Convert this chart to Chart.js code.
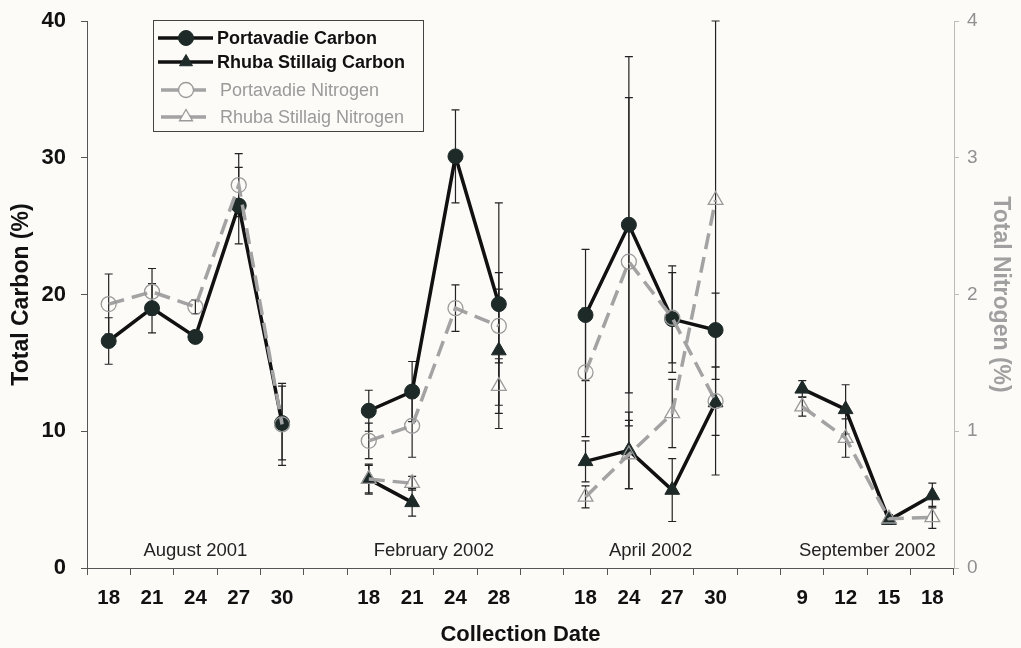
<!DOCTYPE html>
<html>
<head>
<meta charset="utf-8">
<title>Total Carbon and Nitrogen</title>
<style>
  html, body { margin: 0; padding: 0; background: #fcfbf8; }
  #wrap { width: 1021px; height: 648px; position: relative; }
</style>
<script src="https://cdn.jsdelivr.net/npm/chart.js@4.4.1/dist/chart.umd.min.js"></script>
</head>
<body>
<div id="wrap"><canvas id="c" width="1021" height="648"></canvas></div>
<script>
// Collection days; empty entries separate the sampling periods
const dateLabels = ['18','21','24','27','30','', '18','21','24','28','', '18','24','27','30','', '9','12','15','18'];

// Sampling periods: name and first/last category index
const periodNames = ['August 2001', 'February 2002', 'April 2002', 'September 2002'];
const periodFirst = [0, 6, 11, 16];
const periodLast  = [4, 9, 14, 19];

// Total carbon (%) and standard errors
const portavadieCarbon    = [16.6, 19.0, 16.9, 26.5, 10.6, null, 11.5, 12.9, 30.1, 19.3, null, 18.5, 25.1, 18.2, 17.4, null, null, null, null, null];
const portavadieCarbonErr = [1.7, 1.8, 0.3, 2.8, 2.7, null, 1.5, 2.2, 3.4, 7.4, null, 4.8, 12.3, 3.9, 2.7, null, null, null, null, null];
const rhubaCarbon         = [null, null, null, null, null, null, 6.5, 4.8, null, 15.9, null, 7.8, 8.6, 5.7, 12.1, null, 13.1, 11.6, 3.5, 5.3];
const rhubaCarbonErr      = [null, null, null, null, null, null, 1.1, 1.0, null, 5.7, null, 1.5, 2.8, 2.3, 5.3, null, 0.6, 1.8, 0.3, 0.9];

// Total nitrogen (%) and standard errors
const portavadieNitrogen    = [1.93, 2.02, 1.91, 2.80, 1.05, null, 0.93, 1.04, 1.90, 1.77, null, 1.43, 2.24, 1.83, 1.22, null, null, null, null, null];
const portavadieNitrogenErr = [0.22, 0.17, 0.05, 0.23, 0.30, null, 0.13, 0.23, 0.17, 0.27, null, 0.47, 1.20, 0.33, 0.25, null, null, null, null, null];
const rhubaNitrogen         = [null, null, null, null, null, null, 0.65, 0.62, null, 1.33, null, 0.52, 0.83, 1.13, 2.69, null, 1.18, 0.95, 0.36, 0.37];
const rhubaNitrogenErr      = [null, null, null, null, null, null, 0.10, 0.05, null, 0.20, null, 0.08, 0.25, 0.25, 1.31, null, 0.07, 0.14, 0.03, 0.08];

const FONT = "'Liberation Sans', Arial, Helvetica, sans-serif";
const BG = '#fcfbf8';
const INK = '#111111';
const GREY = '#a3a3a3';
const MARKER_DARK = '#1e2a28';

// Paints the page colour behind everything
const backgroundPlugin = {
  id: 'pageBackground',
  beforeDraw(chart) {
    const ctx = chart.ctx;
    ctx.save();
    ctx.fillStyle = BG;
    ctx.fillRect(0, 0, chart.width, chart.height);
    ctx.restore();
  }
};

// Vertical error bars with caps, drawn under the markers
const errorBarPlugin = {
  id: 'errorBars',
  beforeDatasetsDraw(chart) {
    const ctx = chart.ctx;
    ctx.save();
    ctx.strokeStyle = '#222';
    ctx.lineWidth = 1.2;
    chart.data.datasets.forEach((ds, di) => {
      if (!ds.errors) return;
      const meta = chart.getDatasetMeta(di);
      const yScale = chart.scales[ds.yAxisID];
      ds.data.forEach((v, i) => {
        const e = ds.errors[i];
        if (v == null || e == null) return;
        const x = meta.data[i].x;
        const yTop = yScale.getPixelForValue(v + e);
        const yBot = yScale.getPixelForValue(v - e);
        ctx.beginPath();
        ctx.moveTo(x, yTop); ctx.lineTo(x, yBot);
        ctx.moveTo(x - 4, yTop); ctx.lineTo(x + 4, yTop);
        ctx.moveTo(x - 4, yBot); ctx.lineTo(x + 4, yBot);
        ctx.stroke();
      });
    });
    ctx.restore();
  }
};

// Period names centred under each group of collection days
const periodLabelPlugin = {
  id: 'periodLabels',
  afterDraw(chart) {
    const ctx = chart.ctx;
    const xs = chart.scales.x;
    ctx.save();
    ctx.fillStyle = '#222';
    ctx.font = '18.5px ' + FONT;
    ctx.textAlign = 'center';
    ctx.textBaseline = 'middle';
    periodNames.forEach((name, k) => {
      const cx = (xs.getPixelForValue(periodFirst[k]) + xs.getPixelForValue(periodLast[k])) / 2;
      ctx.fillText(name, cx, chart.chartArea.bottom - 17);
    });
    ctx.restore();
  }
};

// Boxed key in the upper left of the plot
const keyPlugin = {
  id: 'boxedKey',
  afterDraw(chart) {
    const ctx = chart.ctx;
    const left = 153.5, top = 20.5, w = 270, h = 111;
    const rows = [38, 62, 90, 117];
    ctx.save();
    ctx.fillStyle = BG;
    ctx.fillRect(left, top, w, h);
    ctx.strokeStyle = '#444';
    ctx.lineWidth = 1;
    ctx.strokeRect(left, top, w, h);
    chart.data.datasets.forEach((ds, i) => {
      const y = rows[i];
      const isCarbon = ds.yAxisID === 'y';
      // line sample
      ctx.save();
      ctx.strokeStyle = ds.borderColor;
      ctx.lineWidth = ds.borderWidth;
      ctx.setLineDash(isCarbon ? [] : [22, 6]);
      ctx.beginPath();
      if (isCarbon) { ctx.moveTo(158, y); ctx.lineTo(213, y); }
      else { ctx.moveTo(161, y); ctx.lineTo(206, y); }
      ctx.stroke();
      ctx.restore();
      // marker
      ctx.save();
      ctx.fillStyle = isCarbon ? ds.pointBackgroundColor : BG;
      ctx.strokeStyle = ds.pointBorderColor;
      ctx.lineWidth = ds.pointBorderWidth;
      Chart.helpers.drawPoint(ctx, {
        pointStyle: ds.pointStyle,
        radius: ds.pointStyle === 'triangle' ? 7.5 : ds.pointRadius,
        borderWidth: ds.pointBorderWidth,
        rotation: 0
      }, 186, y);
      ctx.restore();
      // label
      ctx.fillStyle = isCarbon ? INK : '#9a9a9a';
      ctx.font = (isCarbon ? 'bold ' : '') + '18px ' + FONT;
      ctx.textAlign = 'left';
      ctx.textBaseline = 'middle';
      ctx.fillText(ds.label, isCarbon ? 217 : 220, y + 1);
    });
    ctx.restore();
  }
};

// Fixed box sizes for the vertical axes; the plot area top comes from layout padding
function fixVertical(width) {
  return function (scale) {
    scale.width = width;
    scale.paddingTop = 0;
    scale.paddingBottom = 0;
  };
}

new Chart(document.getElementById('c'), {
  type: 'line',
  data: {
    labels: dateLabels,
    datasets: [
      {
        label: 'Portavadie Carbon',
        data: portavadieCarbon,
        errors: portavadieCarbonErr,
        yAxisID: 'y',
        borderColor: INK,
        borderWidth: 3.5,
        pointStyle: 'circle',
        pointRadius: 7.5,
        pointBackgroundColor: MARKER_DARK,
        pointBorderColor: MARKER_DARK,
        pointBorderWidth: 1,
        spanGaps: false,
        order: 4
      },
      {
        label: 'Rhuba Stillaig Carbon',
        data: rhubaCarbon,
        errors: rhubaCarbonErr,
        yAxisID: 'y',
        borderColor: INK,
        borderWidth: 3.5,
        pointStyle: 'triangle',
        pointRadius: 8.5,
        pointBackgroundColor: MARKER_DARK,
        pointBorderColor: MARKER_DARK,
        pointBorderWidth: 1,
        spanGaps: false,
        order: 3
      },
      {
        label: 'Portavadie Nitrogen',
        data: portavadieNitrogen,
        errors: portavadieNitrogenErr,
        yAxisID: 'y2',
        borderColor: GREY,
        borderWidth: 3.5,
        borderDash: [16, 8],
        pointStyle: 'circle',
        pointRadius: 7.5,
        pointBackgroundColor: 'rgba(0,0,0,0)',
        pointBorderColor: '#9a9a9a',
        pointBorderWidth: 1.3,
        spanGaps: false,
        order: 2
      },
      {
        label: 'Rhuba Stillaig Nitrogen',
        data: rhubaNitrogen,
        errors: rhubaNitrogenErr,
        yAxisID: 'y2',
        borderColor: GREY,
        borderWidth: 3.5,
        borderDash: [16, 8],
        pointStyle: 'triangle',
        pointRadius: 8.5,
        pointBackgroundColor: 'rgba(0,0,0,0)',
        pointBorderColor: '#9a9a9a',
        pointBorderWidth: 1.3,
        spanGaps: false,
        order: 1
      }
    ]
  },
  options: {
    responsive: false,
    animation: false,
    devicePixelRatio: 1,
    layout: { padding: { top: 21, left: 0, right: 0, bottom: 0 } },
    plugins: {
      legend: { display: false },
      tooltip: { enabled: false }
    },
    scales: {
      x: {
        type: 'category',
        offset: true,
        grid: { display: true, drawOnChartArea: false, offset: true, tickLength: 7, color: '#555', lineWidth: 1 },
        border: { display: true, color: '#555', width: 1 },
        ticks: { color: INK, font: { family: FONT, size: 20.5, weight: 'bold' }, padding: 11, maxRotation: 0, autoSkip: false },
        title: { display: true, text: 'Collection Date', color: INK, font: { family: FONT, size: 22, weight: 'bold' }, padding: { top: 4, bottom: 0 } },
        afterFit(scale) { scale.height = 80; scale.paddingLeft = 0; scale.paddingRight = 0; }
      },
      y: {
        position: 'left',
        min: 0, max: 40,
        ticks: { stepSize: 10, color: INK, font: { family: FONT, size: 22, weight: 'bold' }, padding: 15 },
        grid: { display: true, drawOnChartArea: false, tickLength: 6, color: '#555' },
        border: { display: true, color: '#555', width: 1 },
        title: { display: true, text: 'Total Carbon (%)', color: INK, font: { family: FONT, size: 23, weight: 'bold' }, padding: { top: 8, bottom: 0 } },
        afterFit: fixVertical(87)
      },
      y2: {
        position: 'right',
        min: 0, max: 4,
        ticks: { stepSize: 1, color: '#909090', font: { family: FONT, size: 19 }, padding: 8 },
        grid: { display: true, drawOnChartArea: false, tickLength: 5, color: '#bbb' },
        border: { display: true, color: '#bbb', width: 1 },
        title: { display: true, text: 'Total Nitrogen (%)', color: '#a0a0a0', font: { family: FONT, size: 23, weight: 'bold' }, padding: { top: 7, bottom: 0 } },
        afterFit: fixVertical(67)
      }
    }
  },
  plugins: [backgroundPlugin, errorBarPlugin, periodLabelPlugin, keyPlugin]
});
</script>
</body>
</html>
